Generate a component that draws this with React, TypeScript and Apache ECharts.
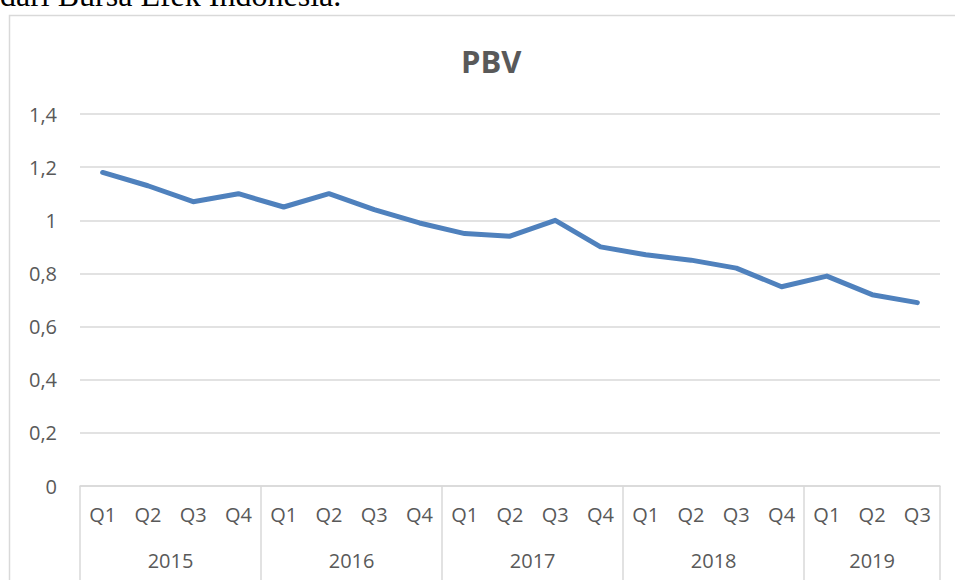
import React, { useEffect, useRef } from "react";
import * as echarts from "echarts";

const quarters = ["Q1","Q2","Q3","Q4","Q1","Q2","Q3","Q4","Q1","Q2","Q3","Q4","Q1","Q2","Q3","Q4","Q1","Q2","Q3"];
const years = ["2015", "2016", "2017", "2018", "2019"];
const quartersPerYear = [4, 4, 4, 4, 3];
const pbv = [1.18, 1.13, 1.07, 1.10, 1.05, 1.10, 1.04, 0.99, 0.95, 0.94, 1.00, 0.90, 0.87, 0.85, 0.82, 0.75, 0.79, 0.72, 0.69];
const yTicks = [0, 0.2, 0.4, 0.6, 0.8, 1, 1.2, 1.4];

export default function App() {
  const ref = useRef<HTMLDivElement>(null);
  useEffect(() => {
    if (!ref.current) return;
    const chart = echarts.init(ref.current, undefined, { renderer: "svg" });

    // second-level axis in half-quarter units (boundaryGap false)
    const halfCount = quarters.length * 2 + 1;
    const yearData: string[] = new Array(halfCount).fill("");
    const sepIdx: number[] = [0];
    let pos = 0;
    quartersPerYear.forEach((n, i) => {
      yearData[pos * 2 + n] = years[i];
      pos += n;
      sepIdx.push(pos * 2);
    });

    const font = "Open Sans";
    const grey = "#595959";
    const lineGrey = "#d9d9d9";

    chart.setOption({
      animation: false,
      backgroundColor: "#ffffff",
      title: {
        text: "PBV",
        left: 456,
        top: 40,
        textStyle: { fontFamily: font, fontSize: 31, fontWeight: "bold", color: grey },
      },
      graphic: [
        {
          type: "text",
          x: 0,
          y: 11,
          style: {
            text: "dari Bursa Efek Indonesia.",
            font: '32px "Liberation Serif"',
            fill: "#000",
            verticalAlign: "bottom",
          },
        },
        {
          type: "rect",
          shape: { x: 9.5, y: 15.5, width: 980, height: 620 },
          style: { fill: "none", stroke: lineGrey, lineWidth: 1.5 },
          z: -1,
        },
      ],
      grid: { left: 80, right: 15, top: 114, bottom: 94 },
      xAxis: [
        {
          type: "category",
          data: quarters,
          boundaryGap: true,
          axisLine: { show: true, lineStyle: { color: lineGrey, width: 1.5 } },
          axisTick: { show: false },
          axisLabel: { interval: 0, margin: 18, fontFamily: font, fontSize: 20, color: grey },
          splitLine: { show: false },
        },
        {
          type: "category",
          data: yearData,
          boundaryGap: false,
          position: "bottom",
          axisLine: { show: false },
          axisTick: {
            show: true,
            length: 100,
            interval: (idx: number) => sepIdx.includes(idx),
            lineStyle: { color: lineGrey, width: 1.5 },
          },
          axisLabel: {
            interval: 0,
            margin: 64,
            fontFamily: font,
            fontSize: 20,
            color: grey,
          },
          splitLine: { show: false },
        },
      ],
      yAxis: {
        type: "value",
        min: yTicks[0],
        max: yTicks[yTicks.length - 1],
        interval: 0.2,
        axisLine: { show: false },
        axisTick: { show: false },
        axisLabel: {
          margin: 23,
          fontFamily: font,
          fontSize: 20,
          color: grey,
          formatter: (v: number) => String(Math.round(v * 10) / 10).replace(".", ","),
        },
        splitLine: { lineStyle: { color: lineGrey, width: 1.5 } },
      },
      series: [
        {
          type: "line",
          data: pbv,
          xAxisIndex: 0,
          showSymbol: false,
          symbol: "none",
          lineStyle: { color: "#4f81bd", width: 5, cap: "round", join: "round" },
        },
      ],
    });
    return () => chart.dispose();
  }, []);
  return (
    <div
      ref={ref}
      style={{ position: "fixed", left: 0, top: 0, width: 955, height: 580 }}
    />
  );
}
